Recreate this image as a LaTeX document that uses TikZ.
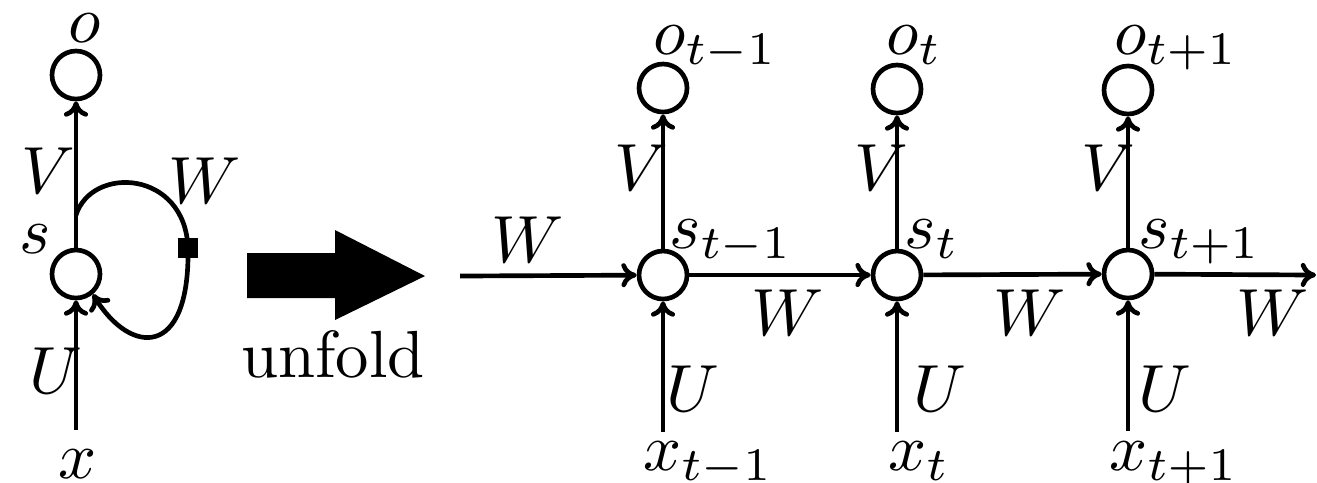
\documentclass[tikz,border=0pt]{standalone}
\usetikzlibrary{arrows.meta}
\begin{document}
\begin{tikzpicture}[x=0.15pt,y=-0.15pt,
  neuron/.style={circle,draw,line width=0.7pt,minimum size=7.2pt,inner sep=0pt},
  conn/.style={line width=0.7pt,-{To[length=2.3pt,width=3.6pt]}},
  lbl/.style={anchor=base west,inner sep=0pt,font=\fontsize{10}{12}\selectfont},
  knob/.style={fill,minimum size=3pt,inner sep=0pt}]
\useasboundingbox (0,0) rectangle (1317,482);
% ---------- folded network ----------
\node[neuron] (o) at (76,75) {};
\node[neuron] (s) at (76,274) {};
\coordinate (x0) at (76,430);
\coordinate (lA) at (76,215);
\draw[conn] (x0) -- (s);
\draw[conn] (s) -- (o);
\node[knob] (sq) at (188,248) {};
\draw[conn] (lA) .. controls (92,165) and (185,170) .. (sq.center)
  .. controls (190,360) and (130,355) .. (s.-50);
\node[knob] at (sq) {};
\node[lbl] (lo) at (67,42) {$o$};
\node[lbl] (lV) at (20,193) {$V$};
\node[lbl] (ls) at (18,253) {$s$};
\node[lbl] (lW) at (167,203) {$W$};
\node[lbl] (lU) at (28,393) {$U$};
\node[lbl] (lx) at (57,478) {$x$};
% ---------- unfold arrow ----------
\fill (247,253) -- (335,253) -- (335,230) -- (425,276) -- (335,320) -- (335,298) -- (247,298) -- cycle;
\node[lbl] (unf) at (240,377) {unfold};
% ---------- unfolded network ----------
\node[neuron] (s1) at (663,275) {};
\node[neuron] (o1) at (663,88) {};
\node[neuron] (s2) at (897,275) {};
\node[neuron] (o2) at (897,89) {};
\node[neuron] (s3) at (1128,274) {};
\node[neuron] (o3) at (1128,90) {};
\coordinate (x1) at (663,432);
\coordinate (x2) at (897,432);
\coordinate (x3) at (1128,431);
\coordinate (win) at (460,276);
\coordinate (wout) at (1316,275);
\draw[conn] (win) -- (s1);
\draw[conn] (s1) -- (s2);
\draw[conn] (s2) -- (s3);
\draw[conn] (s3) -- (wout);
\draw[conn] (x1) -- (s1);
\draw[conn] (x2) -- (s2);
\draw[conn] (x3) -- (s3);
\draw[conn] (s1) -- (o1);
\draw[conn] (s2) -- (o2);
\draw[conn] (s3) -- (o3);
% labels
\node[lbl] (lo1) at (652,54) {$o_{t-1}$};
\node[lbl] (lo2) at (885,54) {$o_{t}$};
\node[lbl] (lo3) at (1113,54) {$o_{t+1}$};
\node[lbl] (ls1) at (668,248) {$s_{t-1}$};
\node[lbl] (ls2) at (903,248) {$s_{t}$};
\node[lbl] (ls3) at (1137,248) {$s_{t+1}$};
\node[lbl] (lx1) at (642,470) {$x_{t-1}$};
\node[lbl] (lx2) at (887,470) {$x_{t}$};
\node[lbl] (lx3) at (1108,470) {$x_{t+1}$};
\node[lbl] (lV1) at (613,190) {$V$};
\node[lbl] (lV2) at (853,190) {$V$};
\node[lbl] (lV3) at (1080,190) {$V$};
\node[lbl] (lU1) at (665,411) {$U$};
\node[lbl] (lU2) at (912,411) {$U$};
\node[lbl] (lU3) at (1137,411) {$U$};
\node[lbl] (lW0) at (490,262) {$W$};
\node[lbl] (lW1) at (750,335) {$W$};
\node[lbl] (lW2) at (992,335) {$W$};
\node[lbl] (lW3) at (1235,335) {$W$};
\end{tikzpicture}
\end{document}
